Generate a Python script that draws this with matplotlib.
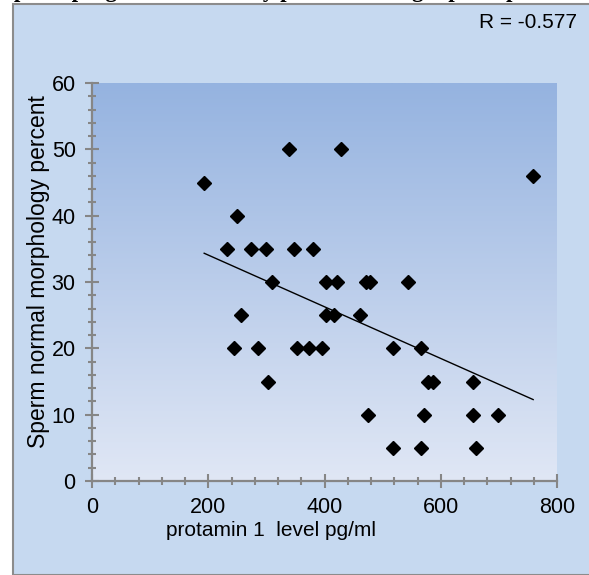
import numpy as np
import matplotlib.pyplot as plt
from matplotlib.patches import Rectangle
from matplotlib.ticker import MultipleLocator

# protamin 1 level (pg/ml) vs sperm normal morphology (%)
protamin = [193, 233, 250, 257, 245, 273, 286, 300, 302, 309, 339, 347, 352,
            374, 380, 395, 402, 402, 417, 422, 429, 461, 472, 479, 475, 517,
            517, 543, 566, 566, 571, 578, 586, 655, 655, 660, 698, 759]
morphology = [45, 35, 40, 25, 20, 35, 20, 35, 15, 30, 50, 35, 20,
              20, 35, 20, 30, 25, 25, 30, 50, 25, 30, 30, 10, 20,
              5, 30, 20, 5, 10, 15, 15, 15, 10, 5, 10, 46]
r_text = "R = -0.577"
title = "sperm progress to normally percent in large sperm patients"
xlabel = "protamin 1  level pg/ml"
ylabel = "Sperm normal morphology percent"

W, H = 589, 575
fig = plt.figure(figsize=(W / 100, H / 100), dpi=100)
plt.rcParams['font.family'] = ['Liberation Sans', 'DejaVu Sans']

# chart area background + border
fig.patches.append(Rectangle((13 / W, 0), 1, 1 - 4 / H, transform=fig.transFigure,
                             facecolor="#c6d9f0", edgecolor="#8c8c8c", linewidth=1.5,
                             zorder=-1))
fig.text(0.5, 1 + 3 / H, title, ha="center", va="baseline", fontsize=16.5,
         fontweight="bold", family="Liberation Serif")
fig.text(577 / W, 1 - 22 / H, r_text, ha="right", va="center", fontsize=15)

ax = fig.add_axes([92 / W, (H - 481) / H, (557 - 92) / W, (481 - 83) / H])
ax.set_xlim(0, 800)
ax.set_ylim(0, 60)

# vertical gradient fill for plot area
grad = np.linspace(0, 1, 256).reshape(-1, 1)
top = np.array([149, 179, 224]) / 255
bot = np.array([224, 231, 245]) / 255
img = bot + (top - bot) * grad[:, :, None] * np.ones((1, 1, 3))
ax.imshow(img, extent=[0, 800, 0, 60], origin="lower", aspect="auto", zorder=0)

x = np.array(protamin)
y = np.array(morphology)
ax.plot(x, y, linestyle="none", marker="D", markersize=7.5, color="black", zorder=3)

k, b = np.polyfit(x, y, 1)
xs = np.array([x.min(), x.max()])
ax.plot(xs, k * xs + b, color="black", linewidth=1, zorder=2)

for s in ["top", "right"]:
    ax.spines[s].set_visible(False)
for s in ["left", "bottom"]:
    ax.spines[s].set_color("#868686")
    ax.spines[s].set_linewidth(1.6)

ax.xaxis.set_major_locator(MultipleLocator(200))
ax.xaxis.set_minor_locator(MultipleLocator(40))
ax.yaxis.set_major_locator(MultipleLocator(10))
ax.yaxis.set_minor_locator(MultipleLocator(2))
ax.tick_params(which="major", direction="inout", length=9.5, width=1.5,
               color="#868686", labelsize=15.5, pad=7)
ax.tick_params(which="minor", direction="inout", length=6, width=1.5, color="#868686")

ax.set_xlabel(xlabel, fontsize=15)
ax.xaxis.set_label_coords(0.385, -0.1)
ax.set_ylabel(ylabel, fontsize=16.5)
ax.yaxis.set_label_coords(-0.09, 0.525)

plt.savefig("out.png", dpi=100)
